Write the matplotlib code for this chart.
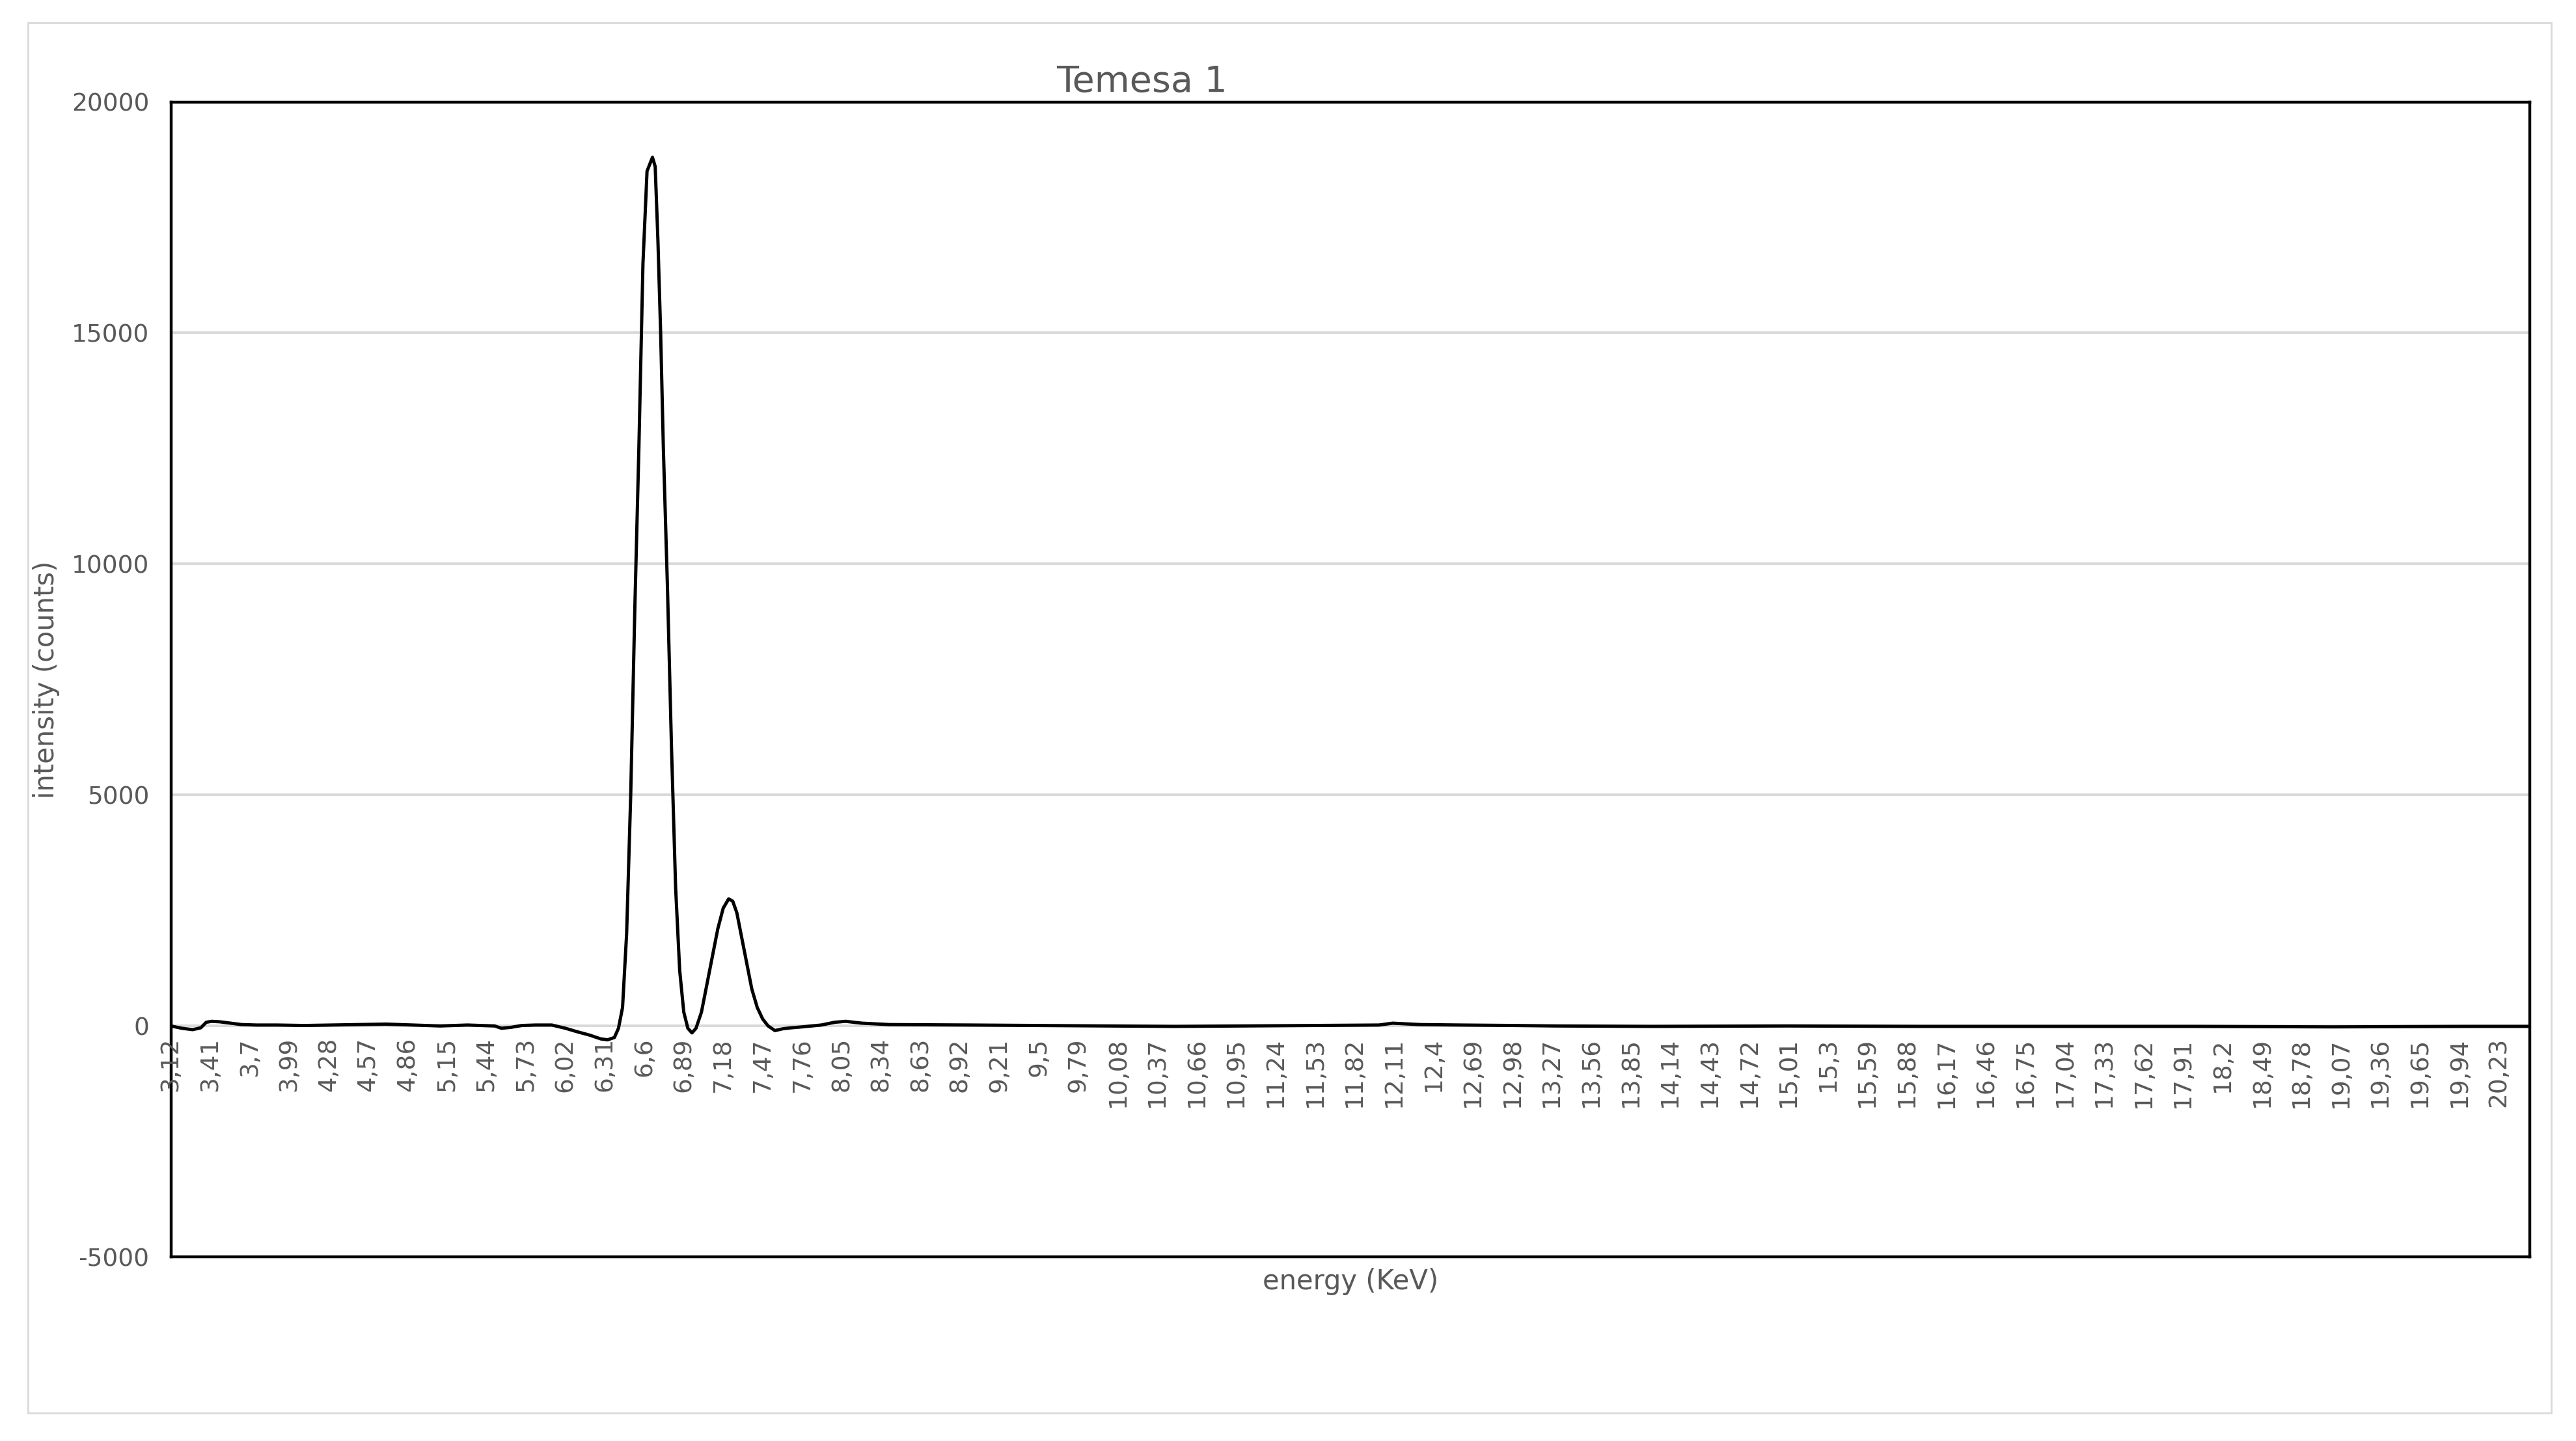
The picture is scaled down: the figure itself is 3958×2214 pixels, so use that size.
import matplotlib
matplotlib.use("Agg")
import matplotlib.pyplot as plt
from matplotlib.patches import Rectangle
from matplotlib.ticker import FixedFormatter

energy = [3.12, 3.20, 3.28, 3.34, 3.38, 3.42, 3.48, 3.56, 3.64, 3.75, 3.90, 4.10, 4.30, 4.50, 4.70, 4.90,
          5.10, 5.30, 5.50, 5.55, 5.62, 5.70, 5.80, 5.92, 6.02, 6.10, 6.20, 6.28, 6.33, 6.38, 6.41, 6.44,
          6.47, 6.50, 6.53, 6.56, 6.59, 6.62, 6.66, 6.68, 6.70, 6.72, 6.74, 6.77, 6.80, 6.83, 6.86,
          6.89, 6.92, 6.95, 6.98, 7.02, 7.06, 7.10, 7.14, 7.18, 7.22, 7.25, 7.28, 7.31, 7.35, 7.39,
          7.43, 7.47, 7.51, 7.56, 7.62, 7.68, 7.76, 7.90, 8.00, 8.08, 8.20, 8.40, 9.00, 10.0, 10.5,
          11.0, 11.5, 12.0, 12.1, 12.3, 12.6, 13.0, 13.3, 14.0, 15.0, 16.0, 17.0, 18.0, 19.0, 20.0, 20.46]
intensity = [0, -50, -80, -40, 80, 100, 90, 60, 30, 20, 20, 10, 20, 30, 40, 20,
             0, 20, 0, -50, -30, 10, 20, 20, -50, -120, -200, -280, -300, -250, -50, 400,
             2000, 5000, 9000, 12500, 16500, 18500, 18800, 18600, 17000, 15000, 12500, 9500, 6000, 3000, 1200,
             300, -50, -150, -50, 300, 900, 1500, 2100, 2550, 2750, 2700, 2450, 2000, 1400, 800,
             400, 150, 0, -100, -60, -40, -20, 20, 80, 100, 60, 30, 20, 0, -10,
             0, 10, 20, 60, 30, 20, 10, 0, -10, 0, -10, -10, -10, -20, -10, -10]

y_ticks = [-5000, 0, 5000, 10000, 15000, 20000]
y_tick_labels = ["-5000", "0", "5000", "10000", "15000", "20000"]

tick_labels = ["3,12", "3,41", "3,7", "3,99", "4,28", "4,57", "4,86", "5,15", "5,44", "5,73",
               "6,02", "6,31", "6,6", "6,89", "7,18", "7,47", "7,76", "8,05", "8,34", "8,63",
               "8,92", "9,21", "9,5", "9,79", "10,08", "10,37", "10,66", "10,95", "11,24", "11,53",
               "11,82", "12,11", "12,4", "12,69", "12,98", "13,27", "13,56", "13,85", "14,14", "14,43",
               "14,72", "15,01", "15,3", "15,59", "15,88", "16,17", "16,46", "16,75", "17,04", "17,33",
               "17,62", "17,91", "18,2", "18,49", "18,78", "19,07", "19,36", "19,65", "19,94", "20,23"]
tick_pos = [float(t.replace(",", ".")) for t in tick_labels]

gray = "#595959"
fig = plt.figure(figsize=(19.79, 11.07), dpi=200)
fig.patches.append(Rectangle((17/1568, 1-860/877), (1553-17)/1568, (860-14)/877,
                             transform=fig.transFigure, fill=False, edgecolor="#d9d9d9", lw=1))
ax = fig.add_axes([104/1568, 1-765/877, (1540-104)/1568, (765-62)/877])
ax.set_xlim(3.12, 20.46)
ax.set_ylim(-5000, 20000)
ax.set_yticks(y_ticks)
ax.yaxis.set_major_formatter(FixedFormatter(y_tick_labels))
ax.tick_params(axis="y", length=0, labelsize=13.5, labelcolor=gray, pad=12)
ax.set_xticks([])
for s in ax.spines.values():
    s.set_color("black"); s.set_linewidth(1.6)
for yv in [0, 5000, 10000, 15000]:
    ax.axhline(yv, color="#d9d9d9", lw=1.4, zorder=0)
ax.plot(energy, intensity, color="black", lw=1.8, zorder=3)
for p, t in zip(tick_pos, tick_labels):
    ax.text(p, -250, t, rotation=90, ha="center", va="top", fontsize=13.5, color=gray)
ax.set_ylabel("intensity (counts)", fontsize=15, color=gray)
ax.yaxis.set_label_coords(-0.047, 0.5)
ax.set_xlabel("energy (KeV)", fontsize=15, color=gray, labelpad=6)
fig.text(695/1568, 1-50/877, "Temesa 1", fontsize=20, color=gray, ha="center", va="center")
fig.savefig("out.png", dpi=200, facecolor="white")
